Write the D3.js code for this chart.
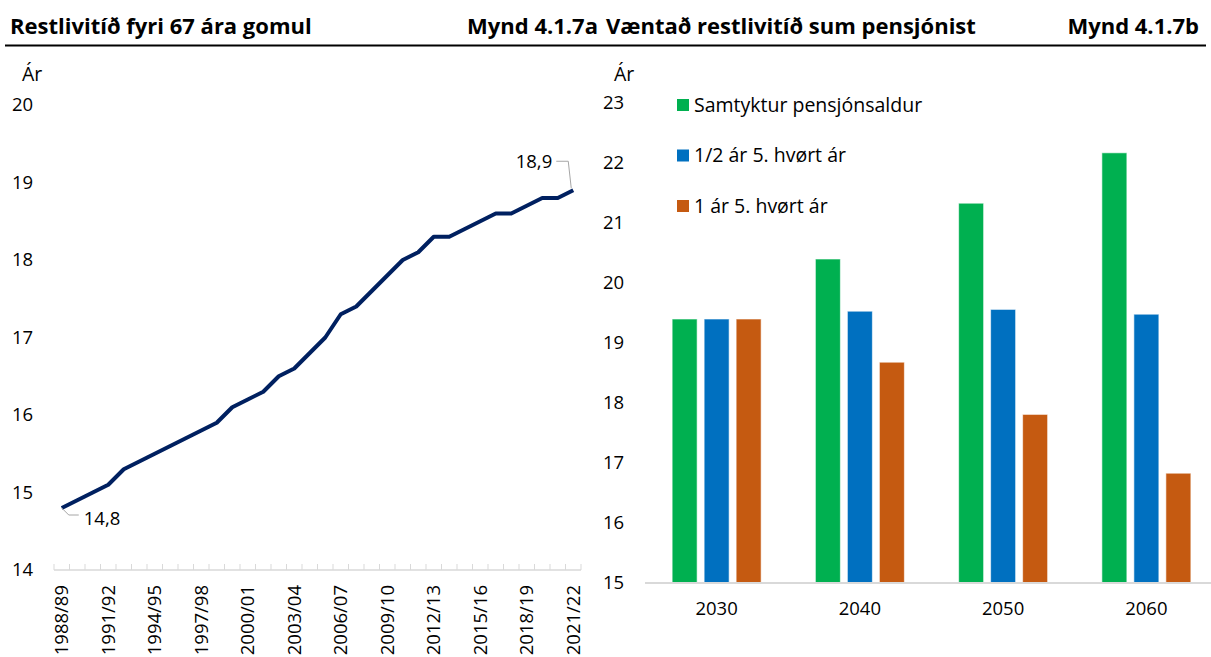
<!DOCTYPE html>
<html>
<head>
<meta charset="utf-8">
<script src="https://cdn.jsdelivr.net/npm/d3@7"></script>
<style>
  body { margin: 0; background: #fff; }
  svg { display: block; font-family: "Open Sans", "Noto Sans", sans-serif; }
</style>
</head>
<body>
<svg id="chart" width="1211" height="657"></svg>
<script>
// Left chart: restlivitíð fyri 67 ára gomul
const seasons = [
  "1988/89", "1989/90", "1990/91", "1991/92", "1992/93", "1993/94", "1994/95",
  "1995/96", "1996/97", "1997/98", "1998/99", "1999/00", "2000/01", "2001/02",
  "2002/03", "2003/04", "2004/05", "2005/06", "2006/07", "2007/08", "2008/09",
  "2009/10", "2010/11", "2011/12", "2012/13", "2013/14", "2014/15", "2015/16",
  "2016/17", "2017/18", "2018/19", "2019/20", "2020/21", "2021/22"
];
const lifeLeft = [
  14.8, 14.9, 15.0, 15.1, 15.3, 15.4, 15.5, 15.6, 15.7, 15.8, 15.9, 16.1,
  16.2, 16.3, 16.5, 16.6, 16.8, 17.0, 17.3, 17.4, 17.6, 17.8, 18.0, 18.1,
  18.3, 18.3, 18.4, 18.5, 18.6, 18.6, 18.7, 18.8, 18.8, 18.9
];
const leftTicks = [14, 15, 16, 17, 18, 19, 20];

// Right chart: væntað restlivitíð sum pensjónist
const years = ["2030", "2040", "2050", "2060"];
const seriesNames = ["Samtyktur pensjónsaldur", "1/2 ár 5. hvørt ár", "1 ár 5. hvørt ár"];
const agreed = [19.4, 20.4, 21.33, 22.17];
const halfYear = [19.4, 19.53, 19.56, 19.48];
const fullYear = [19.4, 18.68, 17.81, 16.83];
const rightTicks = [15, 16, 17, 18, 19, 20, 21, 22, 23];

const colors = ["#00B050", "#0070C0", "#C55A11"];
const numSize = "18.5px";
const textSize = "19.5px";
const titleSize = "22px";

const svg = d3.select("#chart");

// ---- header ----
const titles = [
  { x: 10, anchor: "start", text: "Restlivitíð fyri 67 ára gomul" },
  { x: 598, anchor: "end", text: "Mynd 4.1.7a" },
  { x: 606, anchor: "start", text: "Væntað restlivitíð sum pensjónist" },
  { x: 1199, anchor: "end", text: "Mynd 4.1.7b" }
];
svg.selectAll(".title").data(titles).enter().append("text")
  .attr("x", (d) => d.x).attr("y", 34).attr("text-anchor", (d) => d.anchor)
  .attr("font-weight", "bold").attr("font-size", titleSize).attr("fill", "#000")
  .text((d) => d.text);
svg.append("line")
  .attr("x1", 5).attr("x2", 1206).attr("y1", 45.5).attr("y2", 45.5)
  .attr("stroke", "#000").attr("stroke-width", 2);

// ---- left line chart ----
const x = d3.scaleBand().domain(seasons).range([54, 581]);
const y = d3.scaleLinear().domain([14, 20]).range([570, 105]);
const cx = (s) => x(s) + x.bandwidth() / 2;

const left = svg.append("g");

left.selectAll(".ytick").data(leftTicks).enter().append("text")
  .attr("x", 12).attr("y", (d) => y(d)).attr("dy", "0.35em")
  .attr("font-size", numSize).attr("fill", "#000")
  .text((d) => d);
left.append("text").attr("x", 22).attr("y", 81)
  .attr("font-size", textSize).attr("fill", "#000").text("Ár");

// x axis baseline and ticks at category edges
left.append("line")
  .attr("x1", 54).attr("x2", 581).attr("y1", y(14)).attr("y2", y(14))
  .attr("stroke", "#d9d9d9").attr("stroke-width", 1.5);
const edges = seasons.map((s) => x(s)).concat([x(seasons[seasons.length - 1]) + x.bandwidth()]);
left.selectAll(".xtick").data(edges).enter().append("line")
  .attr("x1", (d) => d).attr("x2", (d) => d)
  .attr("y1", y(14) - 6).attr("y2", y(14))
  .attr("stroke", "#d9d9d9").attr("stroke-width", 1);

left.selectAll(".xlabel").data(seasons.filter((s, i) => i % 3 === 0)).enter().append("text")
  .attr("transform", (d) => `translate(${cx(d)}, 585) rotate(-90)`)
  .attr("text-anchor", "end").attr("dy", "0.35em")
  .attr("font-size", numSize).attr("fill", "#000")
  .text((d) => d);

const line = d3.line()
  .x((d, i) => cx(seasons[i]))
  .y((d) => y(d));
left.append("path")
  .datum(lifeLeft)
  .attr("d", line)
  .attr("fill", "none")
  .attr("stroke", "#002060")
  .attr("stroke-width", 4)
  .attr("stroke-linejoin", "round");

// labels for first and last value
const fmt = (v) => v.toFixed(1).replace(".", ",");
const first = { x: cx(seasons[0]), y: y(lifeLeft[0]) };
const last = { x: cx(seasons[seasons.length - 1]), y: y(lifeLeft[lifeLeft.length - 1]) };
left.append("polyline")
  .attr("points", `${first.x},${first.y} ${first.x + 7},${first.y + 7} ${first.x + 17},${first.y + 7}`)
  .attr("fill", "none").attr("stroke", "#a6a6a6").attr("stroke-width", 1);
left.append("text").attr("x", first.x + 22).attr("y", first.y + 11).attr("dy", "0.35em")
  .attr("font-size", numSize).attr("fill", "#000").text(fmt(lifeLeft[0]));
left.append("polyline")
  .attr("points", `${last.x - 2},${last.y - 2} ${last.x - 5},${last.y - 29} ${last.x - 17},${last.y - 29}`)
  .attr("fill", "none").attr("stroke", "#a6a6a6").attr("stroke-width", 1);
left.append("text").attr("x", last.x - 21).attr("y", last.y - 29).attr("dy", "0.35em")
  .attr("text-anchor", "end")
  .attr("font-size", numSize).attr("fill", "#000").text(fmt(lifeLeft[lifeLeft.length - 1]));

// ---- right bar chart ----
const x0 = d3.scaleBand().domain(years).range([645, 1218]);
const groupWidth = 89;
const x1 = d3.scaleBand().domain(seriesNames).range([0, groupWidth])
  .paddingInner(7 / 32).paddingOuter(0);
const yR = d3.scaleLinear().domain([15, 23]).range([583, 103]);
const seriesValues = [agreed, halfYear, fullYear];

const right = svg.append("g");

right.selectAll(".ytick").data(rightTicks).enter().append("text")
  .attr("x", 603).attr("y", (d) => yR(d)).attr("dy", "0.35em")
  .attr("font-size", numSize).attr("fill", "#000")
  .text((d) => d);
right.append("text").attr("x", 614).attr("y", 81)
  .attr("font-size", textSize).attr("fill", "#000").text("Ár");

const groups = right.selectAll(".group").data(years).enter().append("g")
  .attr("transform", (d) => `translate(${x0(d) + (x0.bandwidth() - groupWidth) / 2}, 0)`);

groups.selectAll("rect")
  .data((yr, gi) => seriesNames.map((name, si) => ({ name, si, value: seriesValues[si][gi] })))
  .enter().append("rect")
  .attr("x", (d) => x1(d.name))
  .attr("width", x1.bandwidth())
  .attr("y", (d) => yR(d.value))
  .attr("height", (d) => yR(15) - yR(d.value))
  .attr("fill", (d) => colors[d.si])
  .attr("stroke", "#fff").attr("stroke-opacity", 0.6).attr("stroke-width", 1);

right.append("line")
  .attr("x1", 645).attr("x2", 1211).attr("y1", yR(15)).attr("y2", yR(15))
  .attr("stroke", "#d9d9d9").attr("stroke-width", 2);

right.selectAll(".xlabel").data(years).enter().append("text")
  .attr("x", (d) => x0(d) + x0.bandwidth() / 2).attr("y", 609).attr("dy", "0.35em")
  .attr("text-anchor", "middle")
  .attr("font-size", numSize).attr("fill", "#000")
  .text((d) => d);

// legend
const legend = right.append("g").attr("transform", "translate(677, 105)");
seriesNames.forEach((name, i) => {
  const row = legend.append("g").attr("transform", `translate(0, ${i * 50.5})`);
  row.append("rect").attr("x", 0).attr("y", -6).attr("width", 12).attr("height", 12)
    .attr("fill", colors[i]);
  row.append("text").attr("x", 17).attr("y", 0).attr("dy", "0.35em")
    .attr("font-size", textSize).attr("fill", "#000").text(name);
});
</script>
</body>
</html>
